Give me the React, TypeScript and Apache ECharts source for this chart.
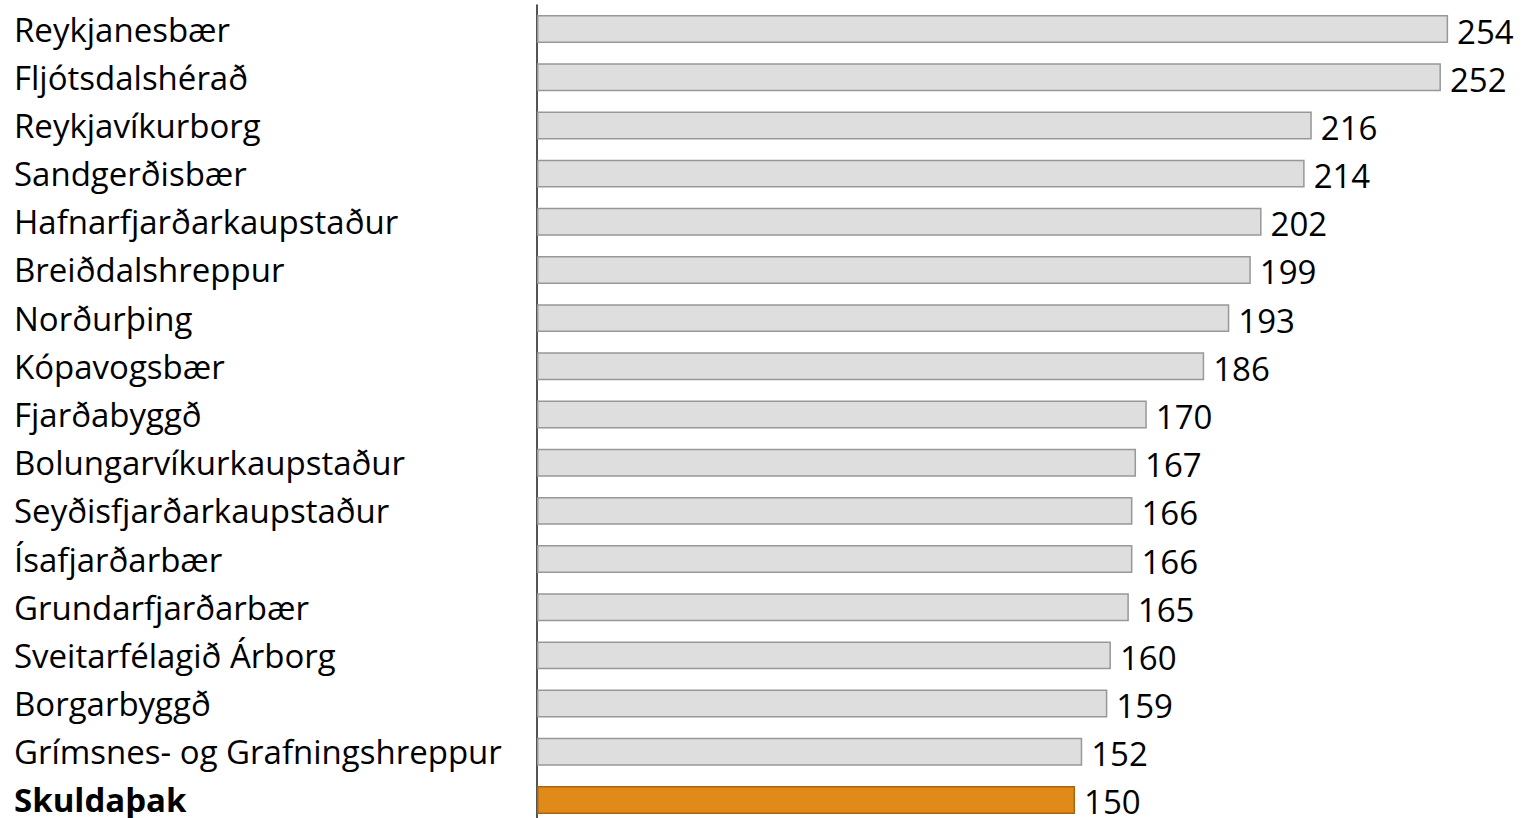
import React, { useEffect, useRef } from "react";
import * as echarts from "echarts";

const categories = [
  "Reykjanesbær",
  "Fljótsdalshérað",
  "Reykjavíkurborg",
  "Sandgerðisbær",
  "Hafnarfjarðarkaupstaður",
  "Breiðdalshreppur",
  "Norðurþing",
  "Kópavogsbær",
  "Fjarðabyggð",
  "Bolungarvíkurkaupstaður",
  "Seyðisfjarðarkaupstaður",
  "Ísafjarðarbær",
  "Grundarfjarðarbær",
  "Sveitarfélagið Árborg",
  "Borgarbyggð",
  "Grímsnes- og Grafningshreppur",
  "Skuldaþak",
];
const values = [254, 252, 216, 214, 202, 199, 193, 186, 170, 167, 166, 166, 165, 160, 159, 152, 150];
const highlight = "Skuldaþak";

const FONT = "'Open Sans', 'Noto Sans', sans-serif";

export default function App() {
  const ref = useRef<HTMLDivElement>(null);
  useEffect(() => {
    if (!ref.current) return;
    const chart = echarts.init(ref.current, null, { renderer: "svg" });
    chart.setOption({
      animation: false,
      backgroundColor: "#ffffff",
      grid: {
        left: 537,
        width: 968.5,
        top: 5,
        height: 819,
        containLabel: false,
        outerBoundsMode: "none",
      },
      xAxis: {
        type: "value",
        min: 0,
        max: 270,
        show: false,
      },
      yAxis: {
        type: "category",
        data: categories,
        inverse: true,
        axisLine: { show: true, lineStyle: { color: "#1a1a1a", width: 1.5 } },
        axisTick: { show: false },
        splitLine: { show: false },
        axisLabel: {
          align: "left",
          margin: 523,
          fontFamily: FONT,
          fontSize: 33,
          color: "#000000",
          formatter: (v: string) => (v === highlight ? `{b|${v}}` : v),
          rich: {
            b: { fontFamily: FONT, fontSize: 33, fontWeight: "bold", color: "#000000" },
          },
        },
      },
      series: [
        {
          type: "bar",
          barCategoryGap: "42%",
          data: values.map((v, i) => ({
            value: v,
            itemStyle:
              categories[i] === highlight
                ? { color: "#e08a1a", borderColor: "#a8650f", borderWidth: 1.5 }
                : { color: "#dedede", borderColor: "#989898", borderWidth: 1.5 },
          })),
          label: {
            show: true,
            position: "right",
            distance: 9,
            fontFamily: FONT,
            fontSize: 33,
            color: "#000000",
            offset: [0, 2],
          },
        },
      ],
    });
    return () => chart.dispose();
  }, []);
  return (
    <div
      ref={ref}
      style={{ position: "absolute", left: 0, top: 0, width: 1528, height: 818, overflow: "hidden" }}
    />
  );
}
